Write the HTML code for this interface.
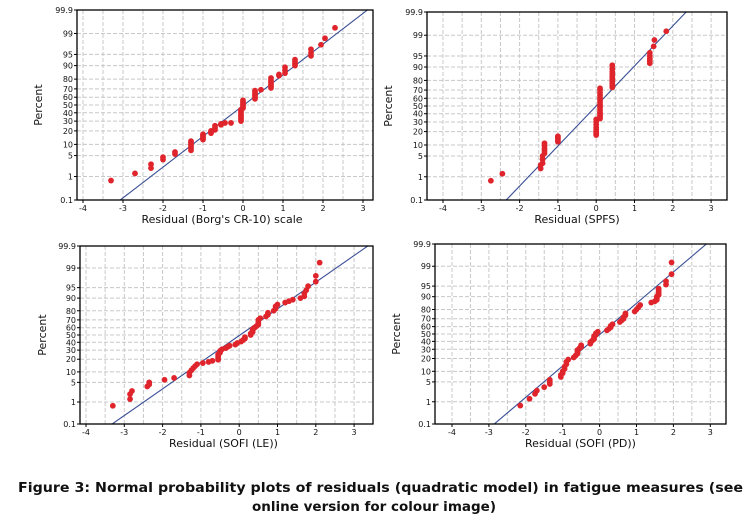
<!DOCTYPE html>
<html><head><meta charset="utf-8">
<style>
html,body{margin:0;padding:0;background:#fff;}
svg{display:block;font-family:"DejaVu Sans","Liberation Sans",sans-serif;}
</style></head>
<body>
<svg id="fig" width="748" height="532" viewBox="0 0 748 532" xmlns="http://www.w3.org/2000/svg">
<text x="18" y="492" font-size="13.5" font-weight="bold" textLength="725" lengthAdjust="spacingAndGlyphs" fill="#111">Figure 3: Normal probability plots of residuals (quadratic model) in fatigue measures (see</text>
<text x="252" y="511" font-size="13.5" font-weight="bold" textLength="244" lengthAdjust="spacingAndGlyphs" fill="#111">online version for colour image)</text>
</svg>
<script>
const yTicks=[0.1,1,5,10,20,30,40,50,60,70,80,90,95,99,99.9];
const yTickLabels=["0.1","1","5","10","20","30","40","50","60","70","80","90","95","99","99.9"];
const xTicks=[-4,-3,-2,-1,0,1,2,3];
const xTitles=["Residual (Borg's CR-10) scale","Residual (SPFS)","Residual (SOFI (LE))","Residual (SOFI (PD))"];
const fitMu=[0.02,0,0.02,0.02];
const fitSigma=[1.0,0.76,1.08,0.93];
const p1x=[-3.3,-2.7,-2.3,-2.3,-2,-2,-1.7,-1.7,-1.3,-1.3,-1.3,-1.3,-1.3,-1.3,-1,-1,-1,-1,-1,-0.8,-0.8,-0.8,-0.7,-0.7,-0.7,-0.55,-0.55,-0.45,-0.3,-0.05,-0.05,-0.05,-0.05,-0.05,-0.05,-0.05,-0.05,0,0,0,0,0,0,0.3,0.3,0.3,0.3,0.3,0.3,0.45,0.7,0.7,0.7,0.7,0.7,0.7,0.9,0.9,1.05,1.05,1.05,1.3,1.3,1.3,1.3,1.7,1.7,1.7,1.95,2.05,2.3];
const p1p=[0.7,1.3,2,2.7,3.8,4.5,5.5,6.3,7,8,9,10,11,12,13,14,15,16,17,18,19,20,21,23,25,26,27,28,28,30,32,34,36,38,40,42,44,46,48,50,52,54,56,58,60,62,64,66,68,69,71,73,75,77,79,81,83,84,85,87,89,90,91,92,93,94.5,95.5,96.5,97.5,98.5,99.4];
const p2x=[-2.75,-2.45,-1.45,-1.45,-1.4,-1.4,-1.4,-1.35,-1.35,-1.35,-1.35,-1.35,-1.0,-1.0,-1.0,-1.0,-1.0,0,0,0,0,0,0,0,0,0,0.1,0.1,0.1,0.1,0.1,0.1,0.1,0.1,0.1,0.1,0.1,0.1,0.1,0.1,0.1,0.1,0.42,0.42,0.42,0.42,0.42,0.42,0.42,0.42,0.42,0.42,1.4,1.4,1.4,1.4,1.4,1.5,1.52,1.83];
const p2p=[0.7,1.3,2,2.6,3,4,5,6,7,8,9.5,11,12,13,14,15,16,17,18,19,20,22,24,27,30,33,34,36,38,40,42,45,48,50,52,55,58,61,64,67,70,72,73,75,77,79,81,83,85,87,89,91,92,93,94,95,96,97.5,98.5,99.3];
const p3x=[-3.3,-2.85,-2.85,-2.8,-2.4,-2.35,-2.35,-1.95,-1.7,-1.3,-1.3,-1.25,-1.2,-1.15,-1.1,-0.95,-0.8,-0.7,-0.55,-0.55,-0.55,-0.55,-0.5,-0.5,-0.45,-0.35,-0.3,-0.25,-0.1,-0.05,0.05,0.1,0.15,0.15,0.3,0.3,0.35,0.35,0.35,0.4,0.45,0.5,0.5,0.5,0.55,0.7,0.75,0.75,0.9,0.95,0.95,1.0,1.2,1.3,1.4,1.6,1.7,1.7,1.75,1.8,2.0,2.0,2.1];
const p3p=[0.7,1.3,2,2.6,3.7,4.3,5,6,6.8,8,9.5,11,12.5,14,15.5,16.5,17.5,18.5,19.5,21,23,25,27,29,31,32.5,34,35.5,37,39,41,43,45,47,50,52,54,56,58,60,62,64,67,70,72,74,76,78,80,82,84,85.5,87,88,89,90,91,92.5,94,95.5,96.8,98,99.4];
const p4x=[-2.15,-1.9,-1.75,-1.7,-1.5,-1.35,-1.35,-1.35,-1.05,-1.05,-1,-1,-0.95,-0.95,-0.9,-0.9,-0.85,-0.7,-0.65,-0.6,-0.6,-0.6,-0.55,-0.5,-0.5,-0.25,-0.25,-0.2,-0.15,-0.15,-0.15,-0.1,-0.1,-0.05,0.2,0.25,0.3,0.3,0.35,0.55,0.6,0.65,0.65,0.7,0.7,0.95,1.0,1.05,1.1,1.4,1.5,1.55,1.55,1.55,1.6,1.6,1.6,1.6,1.8,1.8,1.95,1.95];
const p4p=[0.7,1.3,2,2.6,3.4,4.3,5,5.8,7,8,9,10,11.5,13,15,17,19,21,23,25,27,29,31,33,35,37,39,41,43,45,47,49,51,53,55,57,59,61,63,66,68,70,72,74,76,78,80,82,84,86,87,88,89,90,91,92,93,94,95.5,96.5,98,99.3];
const panelX=[p1x,p2x,p3x,p4x];
const panelP=[p1p,p2p,p3p,p4p];
// layout (pixel geometry, not data)
const layout=[
 {L:77,R:373,T:10,B:200,x0:83,ppu:40,py:105,lab:42},
 {L:427,R:727,T:12,B:200,x0:443,ppu:38.3,py:106,lab:392},
 {L:80,R:373,T:246,B:424,x0:86,ppu:38.3,py:335,lab:46},
 {L:435,R:726,T:244,B:424,x0:452,ppu:36.9,py:334,lab:400}
];
function probit(p){
 const a=[-39.69683028665376,220.9460984245205,-275.9285104469687,138.357751867269,-30.66479806614716,2.506628277459239];
 const b=[-54.47609879822406,161.5858368580409,-155.6989798598866,66.80131188771972,-13.28068155288572];
 const c=[-0.007784894002430293,-0.3223964580411365,-2.400758277161838,-2.549732539343734,4.374664141464968,2.938163982698783];
 const d=[0.007784695709041462,0.3224671290700398,2.445134137142996,3.754408661907416];
 const pl=0.02425;let q,r;
 if(p<pl){q=Math.sqrt(-2*Math.log(p));return (((((c[0]*q+c[1])*q+c[2])*q+c[3])*q+c[4])*q+c[5])/((((d[0]*q+d[1])*q+d[2])*q+d[3])*q+1);}
 if(p>1-pl){q=Math.sqrt(-2*Math.log(1-p));return -(((((c[0]*q+c[1])*q+c[2])*q+c[3])*q+c[4])*q+c[5])/((((d[0]*q+d[1])*q+d[2])*q+d[3])*q+1);}
 q=p-0.5;r=q*q;return (((((a[0]*r+a[1])*r+a[2])*r+a[3])*r+a[4])*r+a[5])*q/(((((b[0]*r+b[1])*r+b[2])*r+b[3])*r+b[4])*r+1);
}
const NS="http://www.w3.org/2000/svg";
const svg=document.getElementById('fig');
function mk(tag,attrs,parent){const e=document.createElementNS(NS,tag);for(const k in attrs)e.setAttribute(k,attrs[k]);(parent||svg).appendChild(e);return e;}
layout.forEach((g,i)=>{
 const zmax=probit(0.999);
 const yS=p=>g.B-(probit(p/100)+zmax)/(2*zmax)*(g.B-g.T);
 const xS=v=>g.x0+(v+4)*g.ppu;
 const grp=mk('g',{});
 
 
 const clipId='clip'+i;
 const cp=mk('clipPath',{id:clipId},grp);mk('rect',{x:g.L,y:g.T,width:g.R-g.L,height:g.B-g.T},cp);
 for(let v=-4.5;v<=3.5;v+=0.5){const x=xS(v);if(x<=g.L+1||x>=g.R-1)continue;
  const l=mk('line',{x1:x,x2:x,y1:g.T,y2:g.B,stroke:'#c8c8c8','stroke-width':1,'stroke-dasharray':'4,2'},grp);
  }
 yTicks.forEach((t,k)=>{const y=yS(t);
  if(k>0&&k<yTicks.length-1){const l=mk('line',{x1:g.L,x2:g.R,y1:y,y2:y,stroke:'#c8c8c8','stroke-width':1,'stroke-dasharray':'4,2'},grp);
   }
  mk('line',{x1:g.L-3,x2:g.L,y1:y,y2:y,stroke:'#000'},grp);
  const tx=mk('text',{x:g.L-4,y:y+3,'font-size':8,'text-anchor':'end',fill:'#111'},grp);tx.textContent=yTickLabels[k];
  
 });
 xTicks.forEach(t=>{const x=xS(t);
  mk('line',{x1:x,x2:x,y1:g.B,y2:g.B+3,stroke:'#000'},grp);
  const tx=mk('text',{x:x,y:g.B+11,'font-size':8,'text-anchor':'middle',fill:'#111'},grp);tx.textContent=String(t);
  
 });
 const x1=fitMu[i]-3.3*fitSigma[i],x2=fitMu[i]+3.3*fitSigma[i];
 const zS=z=>g.B-(z+zmax)/(2*zmax)*(g.B-g.T);
 const fl=mk('line',{x1:xS(x1),y1:zS(-3.3),x2:xS(x2),y2:zS(3.3),stroke:'#3a4f96','stroke-width':1.1,'clip-path':'url(#'+clipId+')'},grp);
 
 panelX[i].forEach((v,k)=>{const c=mk('circle',{cx:xS(v),cy:yS(panelP[i][k]),r:2.9,fill:'#e0242c'},grp);
  });
 const fr=mk('rect',{x:g.L,y:g.T,width:g.R-g.L,height:g.B-g.T,fill:'none',stroke:'#000','stroke-width':1.3},grp);
 
 const yl=mk('text',{x:g.lab,y:g.py,'font-size':11,'text-anchor':'middle',fill:'#111',transform:'rotate(-90 '+g.lab+' '+g.py+')'},grp);
 yl.textContent='Percent';
 const xl=mk('text',{x:(g.L+g.R)/2+(i%2?0:-3),y:g.B+23,'font-size':11,'text-anchor':'middle',fill:'#111'},grp);
 xl.textContent=xTitles[i];
});
</script>
</body></html>
